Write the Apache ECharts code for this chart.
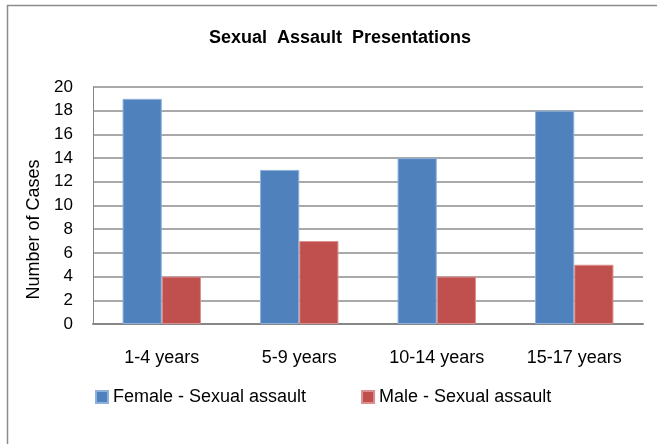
<!DOCTYPE html>
<html>
<head>
<meta charset="utf-8">
<script src="https://cdn.jsdelivr.net/npm/echarts@6/dist/echarts.min.js"></script>
<style>
    html, body { margin: 0; padding: 0; background: #fff; }
    #chart { width: 657px; height: 444px; }
</style>
</head>
<body>
<div id="chart"></div>
<script>
    // data
    var ageGroups = ['1-4 years', '5-9 years', '10-14 years', '15-17 years'];
    var femaleCases = [19, 13, 14, 18];
    var maleCases = [4, 7, 4, 5];
    var seriesNames = ['Female - Sexual assault', 'Male - Sexual assault'];

    var font = '"Liberation Sans", Arial, sans-serif';
    var myChart = echarts.init(document.getElementById('chart'));
    var options = {
        backgroundColor: '#fff',
        animation: false,
        textStyle: { fontFamily: font },
        title: {
            text: 'Sexual  Assault  Presentations',
            left: 335,
            top: 24,
            textAlign: 'center',
            textStyle: { fontSize: 18, fontWeight: 'bold', color: '#000', fontFamily: font }
        },
        graphic: [
            { type: 'line', shape: { x1: 7, y1: 5.5, x2: 657, y2: 5.5 }, style: { stroke: '#8c8c8c', lineWidth: 1.5 } },
            { type: 'line', shape: { x1: 7.5, y1: 5, x2: 7.5, y2: 444 }, style: { stroke: '#8c8c8c', lineWidth: 1.5 } }
        ],
        legend: {
            left: 95,
            top: 388,
            padding: 0,
            itemWidth: 12,
            itemHeight: 12,
            itemGap: 55,
            icon: 'rect',
            textStyle: { fontSize: 18, color: '#000', fontFamily: font },
            data: seriesNames
        },
        grid: { left: 93, right: 14, top: 87, bottom: 120 },
        xAxis: [{
            type: 'category',
            data: ageGroups,
            axisLine: { lineStyle: { color: '#868686', width: 2 } },
            axisTick: { show: false },
            axisLabel: { color: '#000', fontSize: 18, margin: 25, fontFamily: font }
        }],
        yAxis: [{
            type: 'value',
            min: 0,
            max: 20,
            interval: 2,
            name: 'Number of Cases',
            nameLocation: 'middle',
            nameGap: 48,
            nameTextStyle: { fontSize: 18, color: '#000', fontFamily: font, padding: [0, 48, 0, 0] },
            axisLine: { show: true, lineStyle: { color: '#868686', width: 1 } },
            axisTick: { show: false },
            splitLine: { lineStyle: { color: '#8c8c8c', width: 1.5 } },
            axisLabel: { color: '#000', fontSize: 17, margin: 20, padding: [7, 0, 0, 0], fontFamily: font }
        }],
        series: [
            {
                name: seriesNames[0],
                type: 'bar',
                data: femaleCases,
                barGap: '0%',
                barCategoryGap: '43%',
                itemStyle: { color: '#4f81bd', borderColor: '#8fb0da', borderWidth: 1 }
            },
            {
                name: seriesNames[1],
                type: 'bar',
                data: maleCases,
                itemStyle: { color: '#c0504d', borderColor: '#d98f8d', borderWidth: 1 }
            }
        ]
    };
    myChart.setOption(options);
</script>
</body>
</html>
